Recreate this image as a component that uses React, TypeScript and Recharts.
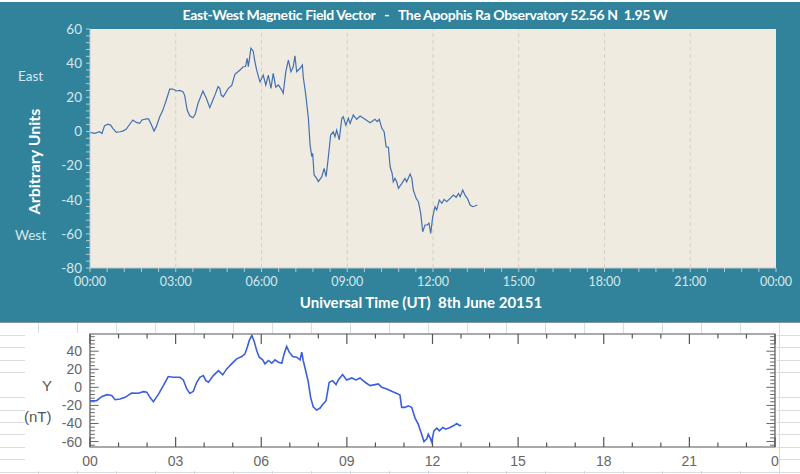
import { LineChart, Line, XAxis, YAxis, CartesianGrid, ReferenceLine, ReferenceArea } from "recharts";

// top panel: observatory plot (hours UT, arbitrary units)
const topHours = [
  0.0, 0.16, 0.34, 0.42, 0.51, 0.63, 0.72, 0.8, 0.92, 1.04, 1.15, 1.27, 1.39, 1.5, 1.62, 1.74, 1.82, 1.97, 2.05, 2.14,
  2.24, 2.32, 2.44, 2.55, 2.67, 2.79, 2.9, 3.02, 3.14, 3.25, 3.31, 3.4, 3.49, 3.6, 3.68, 3.78, 3.95, 4.07, 4.19, 4.3,
  4.38, 4.48, 4.54, 4.59, 4.66, 4.84, 4.96, 5.07, 5.25, 5.36, 5.44, 5.5, 5.54, 5.63, 5.71, 5.77, 5.83, 5.91, 5.95, 6.06,
  6.15, 6.24, 6.33, 6.41, 6.5, 6.59, 6.71, 6.76, 6.85, 6.94, 7.03, 7.11, 7.17, 7.23, 7.35, 7.43, 7.46, 7.55, 7.64, 7.7,
  7.76, 7.79, 7.84, 7.93, 7.99, 8.11, 8.19, 8.26, 8.34, 8.42, 8.51, 8.57, 8.63, 8.72, 8.81, 8.86, 8.95, 9.04, 9.1, 9.21,
  9.33, 9.45, 9.62, 9.8, 9.97, 10.05, 10.12, 10.21, 10.29, 10.36, 10.44, 10.5, 10.57, 10.61, 10.67, 10.73, 10.79, 10.91,
  11.02, 11.08, 11.2, 11.26, 11.31, 11.41, 11.49, 11.57, 11.64, 11.72, 11.8, 11.86, 11.92, 11.99, 12.07, 12.13, 12.22,
  12.31, 12.39, 12.48, 12.6, 12.71, 12.81, 12.89, 12.95, 13.04, 13.12, 13.2, 13.3, 13.39, 13.47, 13.55,
];
const topValues = [
  -0.6, -1.1, -0.2, -1.2, 3.4, 4.2, 3.7, 1.8, -0.5, -0.2, 0.2, 1.4, 4.2, 6.7, 5.3, 4.7, 6.7, 7.3, 7.3, 4.2,
  0.2, 2.8, 8.6, 12.5, 18.4, 24.8, 24.8, 23.7, 24.0, 23.3, 21.3, 12.5, 9.2, 8.0, 10, 16.5, 23.7, 19.4, 13.9, 18.4,
  21.7, 26.2, 25.2, 21.3, 20.3, 25.2, 27, 33.4, 36, 37.9, 38, 42.8, 37.9, 48.7, 47, 40.8, 36, 31.1, 29, 33,
  27.2, 33, 25.2, 34, 26, 27.2, 24.2, 22.3, 35, 41.8, 35, 37.9, 44.3, 35, 37, 38.9, 32, 21.3, 7.7, -8,
  -14.8, -12.8, -25.5, -27.5, -29.4, -26.5, -21.6, -26.5, -14.8, -2.1, -0.2, -3.1, 0.8, -5, 7.7, 8.6, 3.7, 7.7, 4.7, 9.6,
  7.1, 9.0, 7.1, 5.1, 7.1, 5.7, 7.1, 1.8, -0.2, -9, -9.3, -20.7, -24.6, -29.5, -27.5, -29.5, -33.3, -30.4,
  -27.5, -29.5, -25, -27.5, -34.3, -39.2, -41.2, -48, -58.8, -54.8, -54.8, -53.8, -59.7, -50, -44.1, -46, -40.2,
  -42.1, -39.8, -41.2, -39.2, -37.3, -38.6, -36.3, -38.3, -34.3, -37.3, -39.2, -43.1, -44.1, -43.7, -43.1,
];

// bottom panel: magnetometer Y component (nT)
const bottomHours = [
  0.0, 0.23, 0.41, 0.59, 0.76, 0.88, 1.05, 1.23, 1.46, 1.69, 1.87, 1.99, 2.1, 2.22, 2.39, 2.57, 2.74, 2.92, 3.15, 3.27,
  3.39, 3.5, 3.62, 3.74, 3.85, 3.97, 4.06, 4.15, 4.32, 4.5, 4.65, 4.79, 4.96, 5.14, 5.32, 5.43, 5.51, 5.58, 5.67, 5.75,
  5.84, 5.93, 6.05, 6.13, 6.25, 6.37, 6.48, 6.6, 6.72, 6.8, 6.89, 6.98, 7.1, 7.24, 7.36, 7.42, 7.47, 7.57, 7.65, 7.73,
  7.82, 7.94, 8.06, 8.17, 8.27, 8.38, 8.5, 8.62, 8.7, 8.85, 8.99, 9.17, 9.32, 9.46, 9.64, 9.81, 9.99, 10.1, 10.22, 10.4,
  10.57, 10.75, 10.86, 10.92, 11.04, 11.15, 11.27, 11.39, 11.5, 11.62, 11.7, 11.8, 11.85, 11.91, 11.97, 12.05, 12.15,
  12.24, 12.36, 12.47, 12.61, 12.73, 12.85, 12.96, 13.0,
];
const bottomValues = [
  -14.8, -14.8, -10.3, -8.1, -9, -13.7, -13.0, -11.1, -6.3, -6.6, -4.8, -5.3, -11.1, -15.9, -8.1, 1.9, 11.9, 11.1, 11.1, 8.2,
  -1.8, -6.7, -4.4, 5.6, 11.1, 13, 7.4, 5.6, 13, 18.5, 13.8, 20.4, 26, 31.5, 34, 37, 44.4, 51.9, 57.4, 51.1,
  40.8, 33.3, 30.4, 26, 29.7, 26.7, 30.4, 27.8, 26.7, 37, 45.2, 38.9, 34.1, 33.3, 30.4, 38.9, 29.7, 16.7, 5.6, -11.1,
  -21.5, -25.2, -22.9, -18.5, -14.8, 5.6, 7.4, 3, 8.2, 14.1, 8.2, 10.4, 8.2, 10.4, 5.6, 1.9, 3, 3.7, 0, -1.8,
  -4.4, -6.7, -8.5, -22.2, -22.2, -20.4, -22, -34, -40.7, -51.8, -60, -57, -51.8, -55.5, -60.4, -48.1, -45.1,
  -48.1, -44.4, -46.3, -44.4, -42.6, -40, -42.6, -41.5,
];

const TOP_X_TICKS = Array.from({ length: 41 }, (_, i) => (i * 3) / 5);
const TOP_Y_TICKS = Array.from({ length: 36 }, (_, i) => -80 + i * 4);
const TOP_GRID_HOURS = [3, 6, 9, 12, 15, 18, 21];

const BOTTOM_X_TICKS = [0, 3, 6, 9, 12, 15, 18, 21, 24];
const BOTTOM_X_LABELS = ["00", "03", "06", "09", "12", "15", "18", "21", "0"];
const BOTTOM_Y_TICKS = [-60, -40, -20, 0, 20, 40];
const BOTTOM_HOUR_MARKS = Array.from({ length: 25 }, (_, i) => i);
const BOTTOM_Y_MARKS = Array.from({ length: 31 }, (_, i) => -64 + i * 4);

const topData = topHours.map((h, i) => ({ h, v: topValues[i] }));
const bottomData = bottomHours.map((h, i) => ({ h, v: bottomValues[i] }));

const TEAL = "#30839b";
const BEIGE = "#efebe1";
const PALE = "#d6e7ec";
const CAL = "Lato, 'Open Sans', sans-serif";
const HELV = "'Liberation Sans', Arial, sans-serif";

const Y_MIN = -66;
const Y_MAX = 59;

function TopXTick(props: any) {
  const { x, y, payload } = props;
  const v = payload.value;
  if (Math.abs(v / 3 - Math.round(v / 3)) > 1e-6) return <g />;
  const h = Math.round(v) % 24;
  return (
    <text x={x} y={y} dy="0.8em" textAnchor="middle" fill={PALE} fontSize={12.5} fontFamily={CAL}>
      {String(h).padStart(2, "0") + ":00"}
    </text>
  );
}

function TopYTick(props: any) {
  const { x, y, payload } = props;
  if (payload.value % 20 !== 0) return <g />;
  return (
    <text x={x} y={y} dy="0.36em" textAnchor="end" fill={PALE} fontSize={13.5} fontFamily={CAL}>
      {payload.value}
    </text>
  );
}

function BottomXTick(props: any) {
  const { x, y, payload, index } = props;
  return (
    <text x={x} y={y} dy="0.75em" textAnchor="middle" fill="#666" fontSize={14} fontFamily={HELV}>
      {BOTTOM_X_LABELS[index] ?? payload.value}
    </text>
  );
}

function TopPanel() {
  return (
    <div style={{ position: "absolute", left: 0, top: 2, width: 800, height: 320, background: TEAL, borderBottom: "1px solid #7d979e" }}>
      <div style={{ position: "absolute", left: 0, top: 4, width: 850, textAlign: "center", color: "#fff", fontFamily: CAL, fontWeight: 700, fontSize: 14, letterSpacing: -0.35, whiteSpace: "pre" }}>
        {"East-West Magnetic Field Vector   -   The Apophis Ra Observatory 52.56 N  1.95 W"}
      </div>
      <LineChart width={800} height={320} data={topData} margin={{ top: 27, right: 24, bottom: 24, left: 30 }}>
        <CartesianGrid fill={BEIGE} horizontal={false} vertical={false} stroke="none" />
        {TOP_GRID_HOURS.map((h) => (
          <ReferenceLine key={h} x={h} stroke="#d4d0c6" strokeDasharray="4 3" />
        ))}
        <XAxis
          dataKey="h"
          type="number"
          domain={[0, 24]}
          ticks={TOP_X_TICKS}
          interval={0}
          height={30}
          tickSize={4}
          tickMargin={4}
          stroke="#b9cbd0"
          tick={<TopXTick />}
        />
        <YAxis
          type="number"
          domain={[-80, 60]}
          ticks={TOP_Y_TICKS}
          interval={0}
          width={60}
          tickSize={4}
          tickMargin={4}
          stroke="#b9cbd0"
          tick={<TopYTick />}
        />
        <Line dataKey="v" type="linear" stroke="#4470b2" strokeWidth={1.2} dot={false} isAnimationActive={false} />
      </LineChart>
      <div style={{ position: "absolute", left: 0, top: 291, width: 842, textAlign: "center", color: "#fff", fontFamily: CAL, fontWeight: 700, fontSize: 15, whiteSpace: "pre" }}>
        {"Universal Time (UT)  8th June 20151"}
      </div>
      <div style={{ position: "absolute", left: 33, top: 160, width: 0, height: 0 }}>
        <div style={{ position: "absolute", left: -80, top: -10, width: 160, textAlign: "center", transform: "rotate(-90deg)", color: "#fff", fontFamily: CAL, fontWeight: 700, fontSize: 16 }}>
          Arbitrary Units
        </div>
      </div>
      <div style={{ position: "absolute", left: 18, top: 66, color: PALE, fontFamily: CAL, fontSize: 13.5 }}>East</div>
      <div style={{ position: "absolute", left: 15, top: 225, color: PALE, fontFamily: CAL, fontSize: 13.5 }}>West</div>
    </div>
  );
}

function BottomPanel() {
  const xMajor = 11;
  const xMinor = 5;
  const yMajor = 0.3;
  const yMinor = 0.17;
  return (
    <div
      style={{
        position: "absolute",
        left: 0,
        top: 323,
        width: 800,
        height: 151,
        background: "#fff",
        backgroundImage:
          "repeating-linear-gradient(to right, transparent 0 38px, #d7dce3 38px 39px), repeating-linear-gradient(to bottom, transparent 0 11.5px, #d7dce3 11.5px 12.5px)",
      }}
    >
      <div style={{ position: "absolute", left: 25, top: 10, width: 752, height: 138, background: "#fff" }} />
      <div style={{ position: "absolute", left: 0, top: 0, width: 800, height: 151 }}>
        <LineChart width={800} height={151} data={bottomData} margin={{ top: 11, right: 25, bottom: 7, left: 40 }}>
          <XAxis
            dataKey="h"
            type="number"
            domain={[0, 24]}
            ticks={BOTTOM_X_TICKS}
            interval={0}
            height={20}
            axisLine={false}
            tickLine={false}
            tickSize={2}
            tickMargin={6}
            tick={<BottomXTick />}
          />
          <YAxis
            type="number"
            domain={[Y_MIN, Y_MAX]}
            ticks={BOTTOM_Y_TICKS}
            interval={0}
            width={50}
            axisLine={false}
            tickLine={false}
            tickMargin={2}
            tick={{ fill: "#666", fontSize: 14, fontFamily: HELV }}
            allowDataOverflow
          />
          <ReferenceArea x1={0} x2={24} y1={Y_MIN} y2={Y_MAX} fill="none" stroke="#555" strokeWidth={1.2} />
          {BOTTOM_HOUR_MARKS.map((h) => {
            const len = h % 3 === 0 ? xMajor : xMinor;
            return [
              <ReferenceLine key={"b" + h} segment={[{ x: h, y: Y_MIN }, { x: h, y: Y_MIN + len }]} stroke="#555" strokeWidth={1.2} />,
              <ReferenceLine key={"t" + h} segment={[{ x: h, y: Y_MAX }, { x: h, y: Y_MAX - len }]} stroke="#555" strokeWidth={1.2} />,
            ];
          })}
          {BOTTOM_Y_MARKS.map((v) => {
            const len = v % 20 === 0 ? yMajor : yMinor;
            return [
              <ReferenceLine key={"l" + v} segment={[{ x: 0, y: v }, { x: len, y: v }]} stroke="#666" />,
              <ReferenceLine key={"r" + v} segment={[{ x: 24, y: v }, { x: 24 - len, y: v }]} stroke="#666" />,
            ];
          })}
          <Line dataKey="v" type="linear" stroke="#3b5fdc" strokeWidth={1.6} dot={false} isAnimationActive={false} />
        </LineChart>
      </div>
      <div style={{ position: "absolute", left: 42, top: 54, color: "#555", fontFamily: HELV, fontSize: 15 }}>Y</div>
      <div style={{ position: "absolute", left: 24, top: 85, color: "#555", fontFamily: HELV, fontSize: 15 }}>(nT)</div>
    </div>
  );
}

export default function App() {
  return (
    <div style={{ position: "absolute", left: 0, top: 0, width: 800, height: 474, background: "#fff", overflow: "hidden" }}>
      <TopPanel />
      <BottomPanel />
    </div>
  );
}
